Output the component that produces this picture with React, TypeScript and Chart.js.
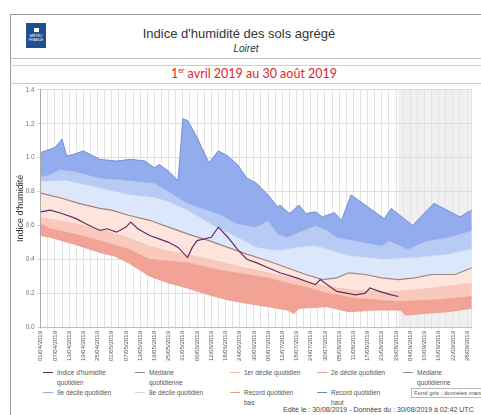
import React, { useEffect, useRef } from 'react';
import { Chart, registerables } from 'chart.js';

Chart.register(...registerables);

// ---- Data (day index 0 = 01/04/2019) ----
const TICK_LABELS = [
  '01/04/2019', '07/04/2019', '13/04/2019', '19/04/2019', '25/04/2019', '01/05/2019',
  '07/05/2019', '13/05/2019', '19/05/2019', '25/05/2019', '31/05/2019', '06/06/2019',
  '12/06/2019', '18/06/2019', '24/06/2019', '30/06/2019', '06/07/2019', '12/07/2019',
  '18/07/2019', '24/07/2019', '30/07/2019', '05/08/2019', '11/08/2019', '17/08/2019',
  '23/08/2019', '29/08/2019', '04/09/2019', '10/09/2019', '16/09/2019', '22/09/2019',
  '28/09/2019',
];
const LABEL_STEP_DAYS = 6;
const LAST_DAY = 182;

const RECORD_HAUT: [number, number][] = [
  [0, 1.03], [4, 1.05], [6, 1.06], [9, 1.11], [11, 1.01], [14, 1.02], [18, 1.04], [25, 0.99],
  [32, 0.98], [38, 0.99], [44, 0.98], [48, 0.94], [50, 0.96], [54, 0.92], [58, 0.865], [60, 1.23],
  [62, 1.22], [66, 1.12], [71, 0.97], [75, 1.04], [79, 1.01], [83, 0.96], [87, 0.88], [91, 0.85],
  [96, 0.78], [100, 0.71], [101, 0.72], [105, 0.67], [109, 0.72], [112, 0.67], [116, 0.68],
  [119, 0.65], [124, 0.675], [127, 0.63], [131, 0.78], [137, 0.72], [145, 0.64], [148, 0.7],
  [157, 0.6], [166, 0.73], [177, 0.65], [180, 0.675], [182, 0.69],
];
const DECILE_9: [number, number][] = [
  [0, 0.89], [4, 0.9], [8, 0.93], [14, 0.92], [25, 0.88], [38, 0.865], [48, 0.85], [54, 0.8],
  [62, 0.73], [75, 0.67], [83, 0.61], [91, 0.59], [96, 0.63], [100, 0.55], [104, 0.53],
  [109, 0.56], [116, 0.6], [121, 0.57], [125, 0.53], [133, 0.51], [144, 0.48], [147, 0.51],
  [155, 0.46], [163, 0.51], [172, 0.53], [182, 0.57],
];
const DECILE_8: [number, number][] = [
  [0, 0.86], [11, 0.865], [25, 0.82], [38, 0.78], [48, 0.765], [54, 0.74], [62, 0.69],
  [74, 0.59], [83, 0.53], [91, 0.47], [100, 0.45], [108, 0.47], [116, 0.48], [121, 0.46],
  [130, 0.42], [144, 0.4], [158, 0.41], [172, 0.43], [182, 0.46],
];
const MEDIANE: [number, number][] = [
  [0, 0.79], [9, 0.76], [16, 0.73], [25, 0.7], [30, 0.69], [37, 0.66], [46, 0.63], [54, 0.59],
  [62, 0.55], [71, 0.51], [79, 0.47], [87, 0.43], [96, 0.39], [104, 0.35], [112, 0.31],
  [119, 0.28], [125, 0.29], [130, 0.32], [137, 0.31], [144, 0.29], [151, 0.28], [158, 0.29],
  [165, 0.31], [175, 0.31], [182, 0.35],
];
const DECILE_2: [number, number][] = [
  [0, 0.65], [12, 0.62], [25, 0.58], [37, 0.53], [46, 0.48], [54, 0.45], [62, 0.43], [75, 0.39],
  [87, 0.35], [100, 0.31], [112, 0.27], [121, 0.24], [133, 0.22], [145, 0.21], [158, 0.22],
  [170, 0.24], [182, 0.26],
];
const DECILE_1: [number, number][] = [
  [0, 0.61], [4, 0.58], [14, 0.55], [25, 0.51], [37, 0.46], [46, 0.4], [54, 0.39], [62, 0.38],
  [74, 0.34], [87, 0.31], [96, 0.29], [104, 0.26], [112, 0.235], [121, 0.2], [133, 0.17],
  [151, 0.15], [166, 0.16], [182, 0.18],
];
const RECORD_BAS: [number, number][] = [
  [0, 0.54], [4, 0.53], [14, 0.49], [25, 0.44], [31, 0.42], [37, 0.38], [46, 0.3], [54, 0.26],
  [62, 0.23], [71, 0.19], [79, 0.16], [87, 0.14], [96, 0.12], [104, 0.1], [107, 0.08],
  [109, 0.11], [121, 0.12], [130, 0.09], [141, 0.1], [152, 0.1], [154, 0.07], [162, 0.08],
  [172, 0.09], [182, 0.11],
];
const INDICE: [number, number][] = [
  [0, 0.68], [4, 0.69], [9, 0.67], [15, 0.64], [19, 0.61], [25, 0.57], [28, 0.58], [32, 0.56],
  [36, 0.59], [38, 0.62], [41, 0.58], [46, 0.54], [50, 0.52], [54, 0.5], [58, 0.47], [62, 0.41],
  [64, 0.47], [66, 0.51], [72, 0.53], [75, 0.59], [79, 0.53], [83, 0.46], [87, 0.4], [91, 0.38],
  [96, 0.35], [101, 0.32], [108, 0.29], [112, 0.27], [116, 0.25], [118, 0.28], [121, 0.25],
  [125, 0.21], [133, 0.19], [137, 0.2], [139, 0.23], [143, 0.21], [148, 0.19], [151, 0.18],
];

const FONT = "'Liberation Sans', Arial, sans-serif";

const pts = (arr: [number, number][]) => arr.map(([x, y]) => ({ x, y }));

const missingDataPlugin = {
  id: 'missingData',
  beforeDraw(chart: any) {
    const { ctx, chartArea, scales } = chart;
    const lastDay = INDICE[INDICE.length - 1][0];
    const x0 = scales.x.getPixelForValue(lastDay);
    ctx.save();
    ctx.fillStyle = '#f0f0f0';
    ctx.fillRect(x0, chartArea.top, chartArea.right - x0, chartArea.bottom - chartArea.top);
    ctx.restore();
  },
};

function SoilChart() {
  const ref = useRef<HTMLCanvasElement | null>(null);
  useEffect(() => {
    if (!ref.current) return;
    const band = (data: [number, number][], bg: string, border: string, bw: number, order = 3) => ({
      data: pts(data),
      backgroundColor: bg,
      borderColor: border,
      borderWidth: bw,
      fill: '-1',
      pointRadius: 0,
      order,
    });
    const gridDays: number[] = [];
    for (let d = 0; d <= 180; d += 3) gridDays.push(d);
    gridDays.push(LAST_DAY);

    const chart = new Chart(ref.current, {
      type: 'line',
      data: {
        datasets: [
          { data: pts(RECORD_BAS), borderColor: '#e8988b', borderWidth: 0.8, fill: false, pointRadius: 0, order: 3 } as any,
          band(DECILE_1, '#f3a395', '#e9a092', 0.6),
          band(DECILE_2, '#f9c9bc', '#f1b6a8', 0.6),
          band(MEDIANE, '#fde5de', '#9c8585', 1.2, 1),
          band(DECILE_8, '#dde7fb', '#c5d4f3', 0.6),
          band(DECILE_9, '#b8cbf5', '#93aae2', 0.8),
          band(RECORD_HAUT, '#92acee', '#6f88cc', 0.9),
          { data: pts(INDICE), borderColor: '#6a2a62', borderWidth: 1.2, fill: false, pointRadius: 0, order: 0 } as any,
        ],
      },
      options: {
        animation: false,
        responsive: false,
        maintainAspectRatio: false,
        layout: { padding: { left: 2, right: 3.5, top: 5, bottom: 0 } },
        elements: { line: { tension: 0 }, point: { radius: 0 } },
        plugins: { legend: { display: false }, tooltip: { enabled: false } },
        scales: {
          x: {
            type: 'linear',
            min: 0,
            max: LAST_DAY,
            afterBuildTicks: (s: any) => {
              s.ticks = gridDays.map((v) => ({ value: v }));
            },
            afterFit: (s: any) => {
              s.height = 37;
            },
            ticks: {
              autoSkip: false,
              minRotation: 90,
              maxRotation: 90,
              padding: 2,
              color: '#555',
              font: { size: 6, family: FONT },
              callback: (v: any) =>
                Number(v) % LABEL_STEP_DAYS === 0 && Number(v) / LABEL_STEP_DAYS < TICK_LABELS.length
                  ? TICK_LABELS[Number(v) / LABEL_STEP_DAYS]
                  : '',
            },
            grid: { color: '#e3e3e3', lineWidth: 1, tickLength: 2 },
            border: { color: '#c0c0c0' },
          },
          y: {
            min: 0,
            max: 1.4,
            afterFit: (s: any) => {
              s.width = 28.7;
            },
            ticks: {
              stepSize: 0.2,
              padding: 2,
              color: '#777',
              font: { size: 6.5, family: FONT },
              callback: (v: any) => Number(v).toFixed(1),
            },
            grid: { color: '#dcdcdc', tickLength: 4 },
            border: { color: '#aaa' },
            title: {
              display: true,
              text: "Indice d'humidité",
              color: '#333',
              font: { size: 9, family: FONT },
              padding: { top: 3, bottom: 0 },
            },
          },
        },
      } as any,
      plugins: [missingDataPlugin],
    });
    return () => chart.destroy();
  }, []);
  return (
    <canvas
      ref={ref}
      width={471}
      height={280}
      style={{ position: 'absolute', left: 10, top: 84, width: 471, height: 280 }}
    />
  );
}

const LEGEND_ROW1 = [
  { left: 43, color: '#6a2a62', lines: ["Indice d'humidité", 'quotidien'] },
  { left: 135, color: '#9c8585', lines: ['Médiane', 'quotidienne'] },
  { left: 230, color: '#f1b6a8', lines: ['1er décile quotidien'] },
  { left: 317, color: '#e9a092', lines: ['2e décile quotidien'] },
  { left: 403, color: '#9c8585', lines: ['Médiane', 'quotidienne'] },
];
const LEGEND_ROW2 = [
  { left: 43, color: '#93aae2', lines: ['9e décile quotidien'] },
  { left: 135, color: '#c5d4f3', lines: ['8e décile quotidien'] },
  { left: 230, color: '#e8988b', lines: ['Record quotidien', 'bas'] },
  { left: 317, color: '#6f88cc', lines: ['Record quotidien', 'haut'] },
];

function LegendItem({ left, top, color, lines }: { left: number; top: number; color: string; lines: string[] }) {
  return (
    <div style={{ position: 'absolute', left, top, display: 'flex', alignItems: 'flex-start' }}>
      <div style={{ width: 10, height: 1, background: color, marginTop: 4, marginRight: 4 }} />
      <div style={{ fontSize: 6.5, lineHeight: '9.5px', color: '#555', whiteSpace: 'nowrap' }}>
        {lines.map((l, i) => (
          <div key={i}>{l}</div>
        ))}
      </div>
    </div>
  );
}

export default function App() {
  return (
    <div
      style={{
        position: 'fixed',
        left: 0,
        top: 0,
        width: 481,
        height: 415,
        overflow: 'hidden',
        background: '#fff',
        fontFamily: FONT,
      }}
    >
      <div
        style={{
          position: 'absolute',
          left: 10,
          top: 14,
          width: 490,
          height: 420,
          border: '1px solid #9a9a9a',
          boxSizing: 'border-box',
        }}
      />
      <div
        style={{
          position: 'absolute',
          left: 26,
          top: 23,
          width: 20,
          height: 25,
          background: '#1f4f8f',
          color: '#fff',
          fontSize: 3.5,
          lineHeight: '4px',
          textAlign: 'center',
          paddingTop: 5,
          boxSizing: 'border-box',
        }}
      >
        <div style={{ width: 5, height: 4, background: '#fff', margin: '0 auto 2px' }} />
        MÉTÉO
        <br />
        FRANCE
      </div>
      <div
        style={{
          position: 'absolute',
          left: 89,
          top: 26,
          width: 300,
          textAlign: 'center',
          fontSize: 13,
          color: '#333',
        }}
      >
        Indice d'humidité des sols agrégé
      </div>
      <div
        style={{
          position: 'absolute',
          left: 146,
          top: 43,
          width: 200,
          textAlign: 'center',
          fontSize: 10,
          fontStyle: 'italic',
          color: '#333',
        }}
      >
        Loiret
      </div>
      <div style={{ position: 'absolute', left: 10, top: 58, width: 471, height: 1, background: '#bdbdbd' }} />
      <div style={{ position: 'absolute', left: 10, top: 65, width: 471, height: 1, background: '#d0d0d0' }} />
      <div
        style={{
          position: 'absolute',
          left: 104,
          top: 66,
          width: 300,
          textAlign: 'center',
          fontSize: 12.5,
          color: '#e0262b',
          fontFamily: "Lato, 'Open Sans', sans-serif",
        }}
      >
        1<sup style={{ fontSize: 7 }}>er</sup> avril 2019 au 30 août 2019
      </div>
      <div style={{ position: 'absolute', left: 10, top: 83, width: 471, height: 1, background: '#c8c8c8' }} />
      <SoilChart />
      {LEGEND_ROW1.map((it, i) => (
        <LegendItem key={'a' + i} left={it.left} top={368} color={it.color} lines={it.lines} />
      ))}
      {LEGEND_ROW2.map((it, i) => (
        <LegendItem key={'b' + i} left={it.left} top={388} color={it.color} lines={it.lines} />
      ))}
      <div
        style={{
          position: 'absolute',
          left: 411,
          top: 388,
          padding: '1px 2px',
          border: '1px solid #bbb',
          fontSize: 6,
          color: '#555',
          whiteSpace: 'nowrap',
        }}
      >
        Fond gris : données manquantes
      </div>
      <div
        style={{
          position: 'absolute',
          left: 283,
          top: 406,
          fontSize: 7,
          color: '#444',
          whiteSpace: 'nowrap',
        }}
      >
        Edité le : 30/08/2019 - Données du : 30/08/2019 à 02:42 UTC
      </div>
    </div>
  );
}
